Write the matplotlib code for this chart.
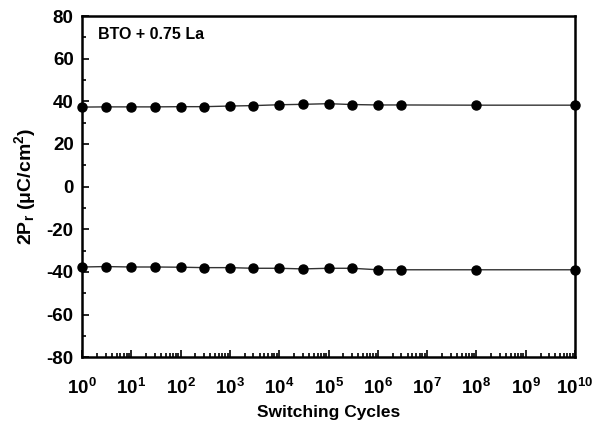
import matplotlib
matplotlib.use("Agg")
import numpy as np
import matplotlib.pyplot as plt
from matplotlib.ticker import MultipleLocator, LogLocator, NullFormatter, FuncFormatter

plt.rcParams['font.family'] = ['Liberation Sans', 'DejaVu Sans']
plt.rcParams['font.weight'] = 'bold'
plt.rcParams['mathtext.fontset'] = 'custom'
plt.rcParams['mathtext.rm'] = 'Liberation Sans:bold'
plt.rcParams['mathtext.it'] = 'Liberation Sans:bold'
plt.rcParams['mathtext.bf'] = 'Liberation Sans:bold'
plt.rcParams['mathtext.default'] = 'bf'
plt.rcParams['axes.unicode_minus'] = False

# switching cycles and 2Pr values (positive / negative branch)
cycles = [1, 3, 10, 30, 100, 300, 1e3, 3e3, 1e4, 3e4, 1e5, 3e5, 1e6, 3e6, 1e8, 1e10]
pr_pos = [37.3, 37.4, 37.4, 37.4, 37.5, 37.5, 37.8, 38.0, 38.4, 38.6, 38.9, 38.5, 38.3, 38.3, 38.2, 38.2]
pr_neg = [-37.7, -37.5, -37.7, -37.7, -37.8, -38.0, -38.0, -38.3, -38.3, -38.6, -38.3, -38.3, -39.0, -39.0, -39.0, -39.0]

fig = plt.figure(figsize=(5.99, 4.34), dpi=100)
ax = fig.add_axes([0.137, 0.177, 0.823, 0.786])

for vals in (pr_pos, pr_neg):
    ax.plot(cycles, vals, color='#333333', lw=1.0, marker='o', ms=6.5,
            mfc='black', mec='black', clip_on=False, zorder=3)

ax.set_xscale('log')
ax.set_xlim(1, 1e10)
ax.set_ylim(-80, 80)
ax.xaxis.set_major_locator(LogLocator(base=10, numticks=12))
ax.xaxis.set_major_formatter(FuncFormatter(lambda v, p: '10$^{%d}$' % round(np.log10(v))))
ax.xaxis.set_minor_locator(LogLocator(base=10, subs=range(2, 10), numticks=12))
ax.xaxis.set_minor_formatter(NullFormatter())
ax.yaxis.set_major_locator(MultipleLocator(20))
ax.yaxis.set_minor_locator(MultipleLocator(10))

for s in ax.spines.values():
    s.set_linewidth(1.8)
ax.tick_params(which='both', direction='in', top=False, right=False, width=1.2)
ax.tick_params(which='major', length=5, labelsize=13.5, pad=6)
ax.tick_params(which='minor', length=3)
ax.tick_params(axis='x', which='major', pad=15)

ax.set_xlabel('Switching Cycles', fontsize=12.5, fontweight='bold', labelpad=5)
ax.set_ylabel(r'2P$_r$ ($\mu$C/cm$^2$)', fontsize=14, fontweight='bold', labelpad=6)
ax.text(0.032, 0.945, 'BTO + 0.75 La', transform=ax.transAxes, fontsize=11.5,
        fontweight='bold', va='center')

fig.savefig('out.png', dpi=100)
